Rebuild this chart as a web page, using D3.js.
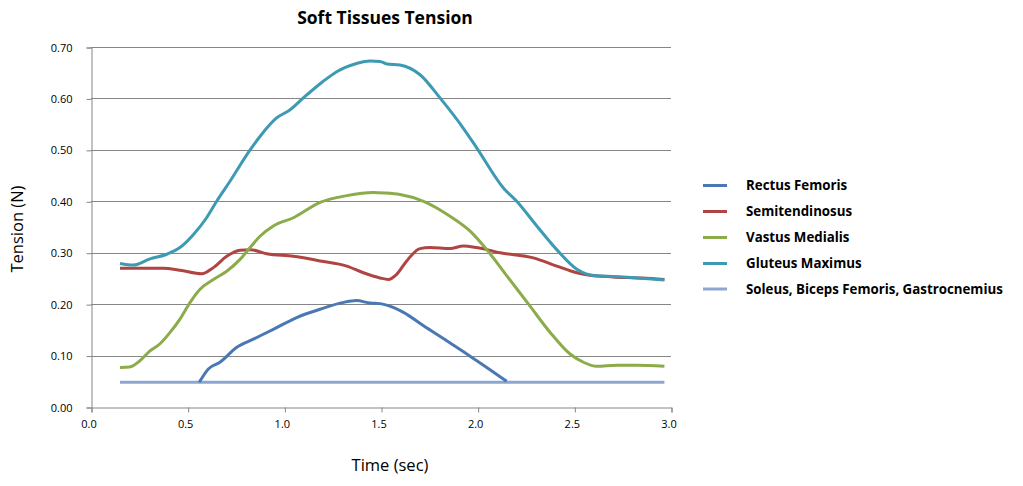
<!DOCTYPE html>
<html><head><meta charset="utf-8">
<script src="https://cdn.jsdelivr.net/npm/d3@7"></script>
<style>body{margin:0;background:#fff}svg{display:block}</style>
</head><body><svg id="c" width="1023" height="486"></svg>
<script>
const xTicks = [0.0,0.5,1.0,1.5,2.0,2.5,3.0];
const yTicks = [0,0.1,0.2,0.3,0.4,0.5,0.6,0.7];
const seriesNames = ["Rectus Femoris","Semitendinosus","Vastus Medialis","Gluteus Maximus","Soleus, Biceps Femoris, Gastrocnemius"];
const seriesColors = ["#4a78b3","#b04442","#8cab4a","#3d9ab3","#8ca6d0"];

const rectus = [[0.56,0.048],[0.607,0.074],[0.667,0.087],[0.754,0.116],[0.84,0.132],[0.943,0.151],[1.064,0.174],[1.185,0.19],[1.3,0.203],[1.374,0.207],[1.443,0.202],[1.495,0.201],[1.53,0.198],[1.616,0.184],[1.72,0.158],[1.84,0.129],[1.944,0.103],[2.047,0.077],[2.15,0.05]];
const semiten = [[0.15,0.27],[0.374,0.27],[0.46,0.266],[0.573,0.259],[0.633,0.271],[0.702,0.293],[0.771,0.305],[0.823,0.306],[0.909,0.298],[1.047,0.293],[1.185,0.284],[1.323,0.274],[1.409,0.261],[1.495,0.251],[1.538,0.248],[1.581,0.258],[1.633,0.284],[1.702,0.308],[1.754,0.31],[1.857,0.308],[1.926,0.313],[1.995,0.31],[2.116,0.3],[2.288,0.29],[2.409,0.274],[2.513,0.261],[2.581,0.256],[2.7,0.253],[2.85,0.251],[2.966,0.248]];
const vastus = [[0.15,0.077],[0.2,0.078],[0.253,0.09],[0.305,0.109],[0.357,0.123],[0.409,0.145],[0.46,0.171],[0.512,0.203],[0.564,0.229],[0.633,0.248],[0.702,0.264],[0.771,0.287],[0.823,0.31],[0.874,0.332],[0.943,0.352],[1.047,0.368],[1.185,0.398],[1.323,0.411],[1.46,0.417],[1.52,0.416],[1.598,0.413],[1.72,0.4],[1.857,0.371],[1.961,0.342],[2.047,0.306],[2.151,0.255],[2.271,0.196],[2.375,0.145],[2.478,0.103],[2.547,0.087],[2.616,0.079],[2.72,0.081],[2.823,0.081],[2.966,0.079]];
const gluteus = [[0.15,0.279],[0.219,0.276],[0.305,0.288],[0.392,0.297],[0.46,0.31],[0.529,0.335],[0.598,0.368],[0.65,0.4],[0.719,0.439],[0.823,0.5],[0.874,0.526],[0.96,0.562],[1.03,0.578],[1.098,0.601],[1.2,0.633],[1.271,0.652],[1.374,0.668],[1.443,0.673],[1.495,0.672],[1.53,0.667],[1.598,0.665],[1.702,0.646],[1.805,0.601],[1.926,0.542],[1.995,0.504],[2.133,0.426],[2.202,0.4],[2.306,0.352],[2.409,0.306],[2.513,0.268],[2.616,0.255],[2.754,0.253],[2.966,0.247]];
const soleus = [[0.15,0.048],[2.966,0.048]];
const seriesData = [rectus, semiten, vastus, gluteus, soleus];

const svg = d3.select("#c");
const L=91, R=671, T=47, B=407;
const x = d3.scaleLinear().domain([0,3]).range([L,R]);
const y = d3.scaleLinear().domain([0,0.7]).range([B,T]);
const font = "'Open Sans', 'Liberation Sans', Arial, sans-serif";

// gridlines
svg.append("g").selectAll("line").data(yTicks.slice(1)).join("line")
  .attr("x1",L).attr("x2",R).attr("y1",d=>Math.round(y(d))+0.5).attr("y2",d=>Math.round(y(d))+0.5)
  .attr("stroke","#868686").attr("stroke-width",1);

// axes
const yAxis = svg.append("g").attr("transform",`translate(${L+0.5},0.5)`)
  .call(d3.axisLeft(y).tickValues(yTicks).tickFormat(d3.format(".2f")).tickSize(5).tickPadding(14));
const xAxis = svg.append("g").attr("transform",`translate(-2.5,${B+0.5})`)
  .call(d3.axisBottom(x).tickValues(xTicks).tickFormat(d3.format(".1f")).tickSize(0).tickPadding(13));
svg.append("g").attr("transform",`translate(0.5,${B+0.5})`)
  .call(d3.axisBottom(x).tickValues(xTicks).tickFormat("").tickSize(5))
  .selectAll("path,line").attr("stroke","#868686");
xAxis.select("path").remove();
[yAxis,xAxis].forEach(a=>{
  a.selectAll("path,line").attr("stroke","#868686");
  a.selectAll("text").attr("fill","#000").style("font-family",font).style("font-size","11px");
});

// lines
const line = d3.line().x(d=>x(d[0])).y(d=>y(d[1])).curve(d3.curveMonotoneX);
const order = [4,0,1,2,3];
order.forEach(i=>{
  svg.append("path").datum(seriesData[i]).attr("d",line)
    .attr("fill","none").attr("stroke",seriesColors[i]).attr("stroke-width",3).attr("stroke-linejoin","round");
});

// title
svg.append("text").attr("x",385).attr("y",24).attr("text-anchor","middle")
  .style("font-family",font).style("font-size","17.5px").style("font-weight","bold").text("Soft Tissues Tension");
svg.append("text").attr("transform","translate(23,229) rotate(-90)").attr("text-anchor","middle")
  .style("font-family",font).style("font-size","16.5px").text("Tension (N)");
svg.append("text").attr("x",390).attr("y",471).attr("text-anchor","middle")
  .style("font-family",font).style("font-size","16.5px").text("Time (sec)");

// legend
const legY = [185.5,211.5,237.5,263.5,289];
const lg = svg.append("g");
seriesNames.forEach((n,i)=>{
  lg.append("line").attr("x1",703).attr("x2",727).attr("y1",legY[i]).attr("y2",legY[i])
    .attr("stroke",seriesColors[i]).attr("stroke-width",3);
  lg.append("text").attr("x",746).attr("y",legY[i]+4.5).style("font-family",font)
    .style("font-size","13.3px").style("font-weight","bold").text(n);
});
</script></body></html>
